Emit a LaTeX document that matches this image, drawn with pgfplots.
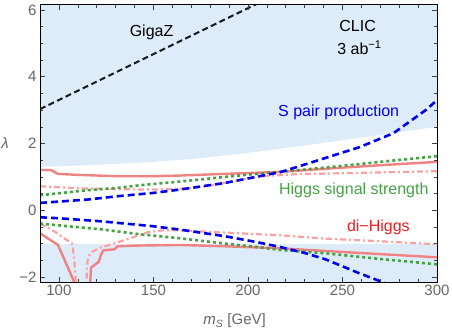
\documentclass[border=0pt]{standalone}
\usepackage{pgfplots}
\pgfplotsset{compat=1.18}
\usepackage{fontspec}
\setmainfont{Liberation Sans}

\definecolor{regionblue}{RGB}{222,236,249}
\definecolor{sblue}{RGB}{0,0,240}
\definecolor{hgreen}{RGB}{70,160,70}
\definecolor{dhred}{RGB}{240,130,130}
\definecolor{dhpink}{RGB}{252,160,160}
\definecolor{dhtext}{RGB}{235,30,30}

\begin{document}
\begin{tikzpicture}
\begin{axis}[
    scale only axis,
    width=397bp, height=277.3bp,
    xmin=90, xmax=300,
    ymin=-2.15, ymax=6.16,
    xtick={100,150,200,250,300},
    ytick={-2,0,2,4,6},
    yticklabels={−2,0,2,4,6},
    minor x tick num=4,
    minor y tick num=3,
    tick align=inside,
    major tick length=5bp,
    minor tick length=3bp,
    tick style={black!75, line width=0.6bp},
    axis line style={black, line width=0.9bp},
    /pgf/number format/assume math mode=true,
    ticklabel style={font=\fontsize{15bp}{18bp}\selectfont, text=black!60},
    label style={font=\fontsize{15bp}{18bp}\selectfont, text=black!60},
    xlabel={\textit{m}\textsubscript{\textit{S}} [GeV]},
    ylabel={\textit{λ}},
    xlabel style={at={(axis description cs:0.49,-0.141)}, anchor=center},
    ylabel style={rotate=-90, at={(axis description cs:-0.088,0.502)}, anchor=center},
    axis on top,
]

% shaded regions
\addplot[fill=regionblue, draw=none] coordinates {
    (90,1.3) (120,1.36) (150,1.45) (175,1.56) (200,1.72)
    (225,1.9) (250,2.1) (275,2.3) (300,2.5) (300,6.5) (90,6.5)
};
\addplot[fill=regionblue, draw=none] coordinates {
    (90,-1) (300,-1) (300,-3) (90,-3)
};

% GigaZ
\addplot[black!90, line width=2bp, dash pattern=on 6bp off 3.5bp] coordinates {
    (90,3.03) (210,6.33)
};

% di-Higgs, solid
\addplot[dhred, line width=2.4bp] coordinates {
    (90,1.21) (96,1.2) (99.5,1.09) (110,1.06) (131,1.02) (150,1.02)
    (164,1.04) (188,1.09) (217,1.15) (243,1.25) (270,1.35) (300,1.45)
};
\addplot[dhred, line width=2.4bp] coordinates {
    (90,-0.69) (99.5,-1.04) (108.5,-2.2) (112,-2.6) (116.5,-2.2) (117,-1.72)
    (121,-1.55) (122.5,-1.3) (123.5,-1.2) (129.5,-1.17) (131,-1.08)
    (140,-1.06) (164,-1.04) (188,-1.08) (217,-1.14) (250,-1.25) (300,-1.41)
};

% di-Higgs, dash-dot
\addplot[dhpink, line width=2.2bp, dash pattern=on 6bp off 3bp on 2bp off 3bp] coordinates {
    (90,0.72) (110,0.66) (131,0.63) (150,0.62) (164,0.64) (175,0.7)
    (188,0.82) (200,0.95) (210,1.03) (225,1.08) (250,1.11) (300,1.17)
};
\addplot[dhpink, line width=2.2bp, dash pattern=on 6bp off 3bp on 2bp off 3bp] coordinates {
    (90,-0.4) (95,-0.55) (98,-0.65) (103,-0.85) (107,-1.0) (108,-1.4)
    (109,-2.2) (112,-2.6) (114.7,-2.2) (114.8,-1.65) (115.5,-1.41)
    (117,-1.26) (122,-1.12) (130,-0.98) (137.6,-0.84) (147,-0.66)
    (155,-0.6) (164,-0.6) (180,-0.65) (217,-0.75) (241,-0.85)
    (270,-0.93) (300,-1.02)
};

% Higgs signal strength
\addplot[hgreen, line width=2.6bp, dash pattern=on 3bp off 3bp] coordinates {
    (90,0.45) (115,0.6) (131,0.67) (143,0.75) (164,0.86) (188,1.0)
    (206,1.1) (217,1.15) (243,1.29) (270,1.45) (300,1.62)
};
\addplot[hgreen, line width=2.6bp, dash pattern=on 3bp off 3bp] coordinates {
    (90,-0.4) (122,-0.57) (143,-0.72) (164,-0.84) (188,-1.0)
    (206,-1.11) (217,-1.19) (241,-1.29) (270,-1.46) (300,-1.62)
};

% S pair production
\addplot[sblue, line width=2.6bp, dash pattern=on 7bp off 4bp] coordinates {
    (90,0.22) (100,0.26) (115,0.32) (131,0.42) (150,0.52) (164,0.62)
    (188,0.82) (206,1.02) (217,1.14) (225,1.28) (240,1.55) (259,1.89)
    (277,2.31) (294,3.0) (300,3.3)
};
\addplot[sblue, line width=2.6bp, dash pattern=on 7bp off 4bp] coordinates {
    (90,-0.21) (100,-0.24) (122,-0.33) (150,-0.48) (164,-0.58)
    (188,-0.78) (206,-0.97) (217,-1.1) (230,-1.28) (241,-1.47)
    (259,-1.89) (271,-2.15) (278,-2.35)
};

% labels
\node[font=\fontsize{16bp}{19bp}\selectfont] at (axis cs:149,5.34) {GigaZ};
\node[font=\fontsize{16bp}{19bp}\selectfont] at (axis cs:258,5.52) {CLIC};
\node[font=\fontsize{16bp}{19bp}\selectfont] at (axis cs:259,4.86) {3 ab\textsuperscript{−1}};
\node[font=\fontsize{16bp}{19bp}\selectfont, text=sblue] at (axis cs:248,2.92) {S pair production};
\node[font=\fontsize{16bp}{19bp}\selectfont, text=hgreen] at (axis cs:256,0.6) {Higgs signal strength};
\node[font=\fontsize{16bp}{19bp}\selectfont, text=dhtext] at (axis cs:269,-0.5) {di−Higgs};
\end{axis}
\pgfresetboundingbox
\useasboundingbox (-40bp,-50bp) rectangle (412bp,282bp);
\end{tikzpicture}
\end{document}
